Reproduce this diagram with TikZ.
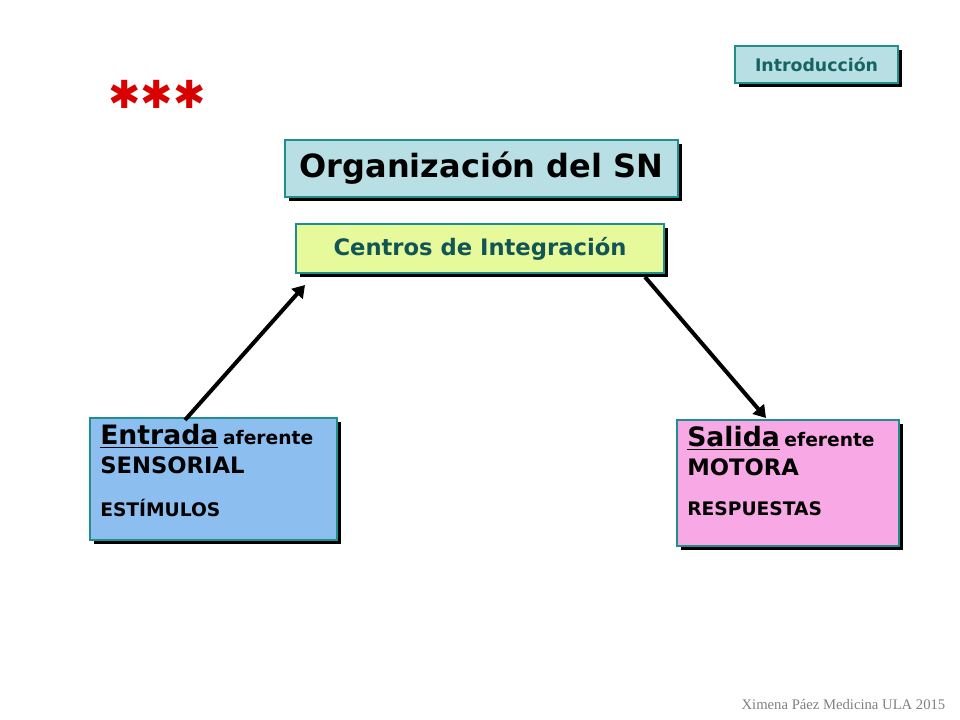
\documentclass[tikz,border=0pt]{standalone}
\usepackage{fontspec}
\setmainfont{DejaVu Sans}
\newfontfamily\footfont{Liberation Serif}
\usetikzlibrary{arrows.meta}
\definecolor{teal1}{HTML}{1E8E8E}
\definecolor{lblue}{HTML}{B8E0E4}
\definecolor{lyel}{HTML}{E6FA9C}
\definecolor{bblue}{HTML}{8CBEF0}
\definecolor{pink1}{HTML}{F8A8E4}
\tikzset{
 conn/.style={line width=3pt,-{Triangle[length=9pt,width=11pt]}},
 btxt/.style={anchor=north west,align=left,inner sep=0pt,font=\bfseries},
}
\newcommand{\shbox}[6]{% name, x1,y1,x2,y2, fill
 \fill[black] (#2+4,#3+4) rectangle (#4+4,#5+4);
 \draw[teal1,line width=1.5pt,fill=#6] (#2,#3) rectangle (#4,#5);
 \coordinate (#1) at ({(#2+#4)/2},{(#3+#5)/2});
}
\begin{document}
\begin{tikzpicture}[x=0.75pt,y=-0.75pt]
\useasboundingbox[fill=white] (0,0) rectangle (960,720);
\shbox{intro}{735}{46}{898}{83}{lblue}
\node[font=\fontsize{13}{15}\selectfont\bfseries,text=teal1!70!black] at (intro) {Introducción};
\node[font=\fontsize{29}{31}\selectfont\bfseries,text=red!85!black,inner sep=0pt] (stars) at (157,94) {✱✱✱};
\shbox{title}{285}{140}{678}{197}{lblue}
\node[font=\fontsize{24}{26}\selectfont\bfseries] at (title) {Organización del SN};
\shbox{cent}{296}{224}{664}{273}{lyel}
\node[font=\fontsize{17}{19}\selectfont\bfseries,text=teal1!60!black] at (cent) {Centros de Integración};
\shbox{ent}{90}{418}{337}{540}{bblue}
\node[btxt] at (100,424)
 {{\fontsize{20}{22}\selectfont\underline{Entrada}} {\fontsize{14}{16}\selectfont aferente}\\[6pt]
  {\fontsize{17}{19}\selectfont SENSORIAL}\\[18pt]
  {\fontsize{14}{16}\selectfont ESTÍMULOS}};
\shbox{sal}{677}{420}{899}{546}{pink1}
\node[btxt] at (687,426)
 {{\fontsize{20}{22}\selectfont\underline{Salida}} {\fontsize{14}{16}\selectfont eferente}\\[6pt]
  {\fontsize{17}{19}\selectfont MOTORA}\\[18pt]
  {\fontsize{14}{16}\selectfont RESPUESTAS}};
\coordinate (a1) at (185,420); \coordinate (a2) at (305,285);
\coordinate (b1) at (645,277); \coordinate (b2) at (766,418);
\draw[conn] (a1) -- (a2);
\draw[conn] (b1) -- (b2);
\node[anchor=east,font=\footfont\fontsize{11}{13}\selectfont,text=gray] (foot) at (950,704) {Ximena Páez Medicina ULA 2015};
\end{tikzpicture}
\end{document}
